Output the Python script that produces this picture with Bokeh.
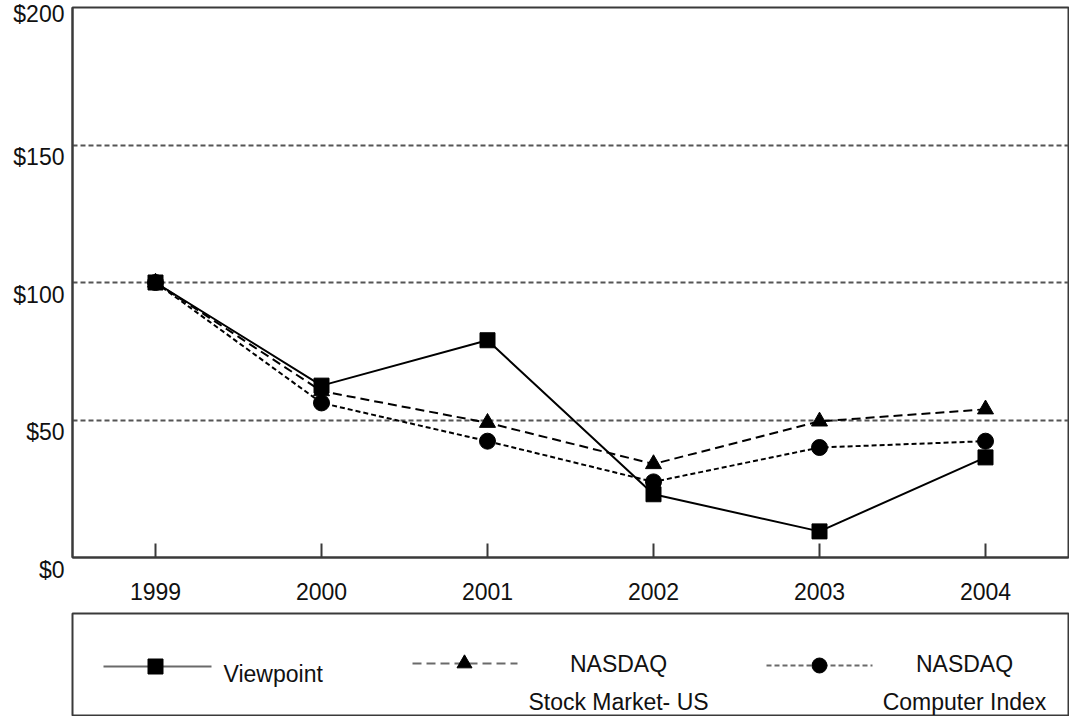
from bokeh.plotting import figure
from bokeh.models import Range1d, FixedTicker, Grid, LinearAxis
from bokeh.layouts import column
from bokeh.embed import file_html
from bokeh.resources import INLINE
from bokeh.core.properties import value

# ---- data ----
years = [1999, 2000, 2001, 2002, 2003, 2004]
viewpoint = [100, 62.5, 79, 23, 9.5, 36.4]
nasdaq_us = [100, 60.5, 49, 34, 49.5, 53.9]
nasdaq_computer = [100, 56.2, 42.3, 27.5, 40, 42.3]
y_ticks = [0, 50, 100, 150, 200]
y_tick_labels = ["$0", "$50", "$100", "$150", "$200"]
x_tick_labels = ["1999", "2000", "2001", "2002", "2003", "2004"]
legend_line1 = ["Viewpoint", "NASDAQ", "NASDAQ"]
legend_line2 = ["", "Stock Market- US", "Computer Index"]

FONT = value("Liberation Sans")
FS = "23px"
FRAME = "#3a3a3a"
W = 1069

p = figure(width=W, height=611, x_range=Range1d(1998.5, 2004.5), y_range=Range1d(0, 200),
           output_backend="svg", toolbar_location=None, y_axis_location=None,
           min_border_left=71, min_border_right=W - 1068, min_border_top=7, min_border_bottom=54)
p.background_fill_color = "white"
p.border_fill_color = "white"
p.outline_line_color = FRAME
p.outline_line_width = 2
p.outline_line_alpha = 1.0
p.center = [r for r in p.center if not isinstance(r, Grid)]
p.add_layout(Grid(dimension=1, ticker=FixedTicker(ticks=[50, 100, 150]),
                  grid_line_color="#555555", grid_line_width=2, grid_line_dash="5 3"))

ax = p.xaxis[0]
ax.ticker = FixedTicker(ticks=years)
ax.major_label_overrides = {y: s for y, s in zip(years, x_tick_labels)}
ax.axis_line_color = FRAME
ax.axis_line_width = 2
ax.major_tick_in = 14
ax.major_tick_out = 0
ax.major_tick_line_color = FRAME
ax.major_tick_line_width = 2
ax.minor_tick_line_color = None
ax.major_label_text_font = "Liberation Sans"
ax.major_label_text_font_size = FS
ax.major_label_text_color = "#111111"
ax.major_label_standoff = 25

# y labels sit a little below their lines in the original: an empty first line pushes them
# down (the top one already gets pushed down by the canvas edge, so it keeps one line)
y_top = max(y_ticks)
yax = LinearAxis(ticker=FixedTicker(ticks=y_ticks),
                 major_label_overrides={t: (s if t == y_top else "\n" + s)
                                        for t, s in zip(y_ticks, y_tick_labels)})
yax.axis_line_color = FRAME
yax.axis_line_width = 2
yax.major_tick_in = 0
yax.major_tick_out = 0
yax.minor_tick_line_color = None
yax.major_tick_line_color = None
yax.major_label_text_font = "Liberation Sans"
yax.major_label_text_font_size = FS
yax.major_label_text_color = "#111111"
yax.major_label_text_line_height = 0.95
yax.major_label_standoff = 8
p.add_layout(yax, "left")

# series
p.line(years, viewpoint, line_color="black", line_width=2)
p.line(years, nasdaq_us, line_color="black", line_width=2, line_dash="9 5")
p.line(years, nasdaq_computer, line_color="black", line_width=2, line_dash="5 3")
p.scatter(years, nasdaq_computer, marker="circle", size=16, color="black")
p.scatter(years, nasdaq_us, marker="triangle", size=16, color="black")
p.scatter(years, viewpoint, marker="square", size=15, color="black")

# ---- legend box ----
q = figure(width=W, height=105, x_range=Range1d(0, 996), y_range=Range1d(102, 0),
           output_backend="svg", toolbar_location=None,
           x_axis_location=None, y_axis_location=None,
           min_border_left=72, min_border_right=W - 1068, min_border_top=2, min_border_bottom=1)
q.outline_line_color = FRAME
q.outline_line_width = 2
q.outline_line_alpha = 1.0
q.center = [r for r in q.center if not isinstance(r, Grid)]

LC = "#6a6a6a"
q.line([31, 139], [53, 53], line_color=LC, line_width=2)
q.scatter([83], [53], marker="square", size=15, color="black")
q.line([340, 445], [50, 50], line_color=LC, line_width=2, line_dash="9 5")
q.scatter([392], [50], marker="triangle", size=15, color="black")
q.line([694, 800], [52, 52], line_color=LC, line_width=2, line_dash="5 3")
q.scatter([747], [52], marker="circle", size=15, color="black")

q.text(x=[151], y=[60], text=[legend_line1[0]], text_align="left", text_baseline="alphabetic",
       text_font=FONT, text_font_size=FS, text_color="#111111")
q.text(x=[546, 892], y=[50, 50], text=legend_line1[1:], text_align="center", text_baseline="alphabetic",
       text_font=FONT, text_font_size=FS, text_color="#111111")
q.text(x=[546, 892], y=[88, 88], text=legend_line2[1:], text_align="center", text_baseline="alphabetic",
       text_font=FONT, text_font_size=FS, text_color="#111111")

layout = column(p, q, spacing=0)
open("out.html", "w").write(file_html(layout, INLINE))
